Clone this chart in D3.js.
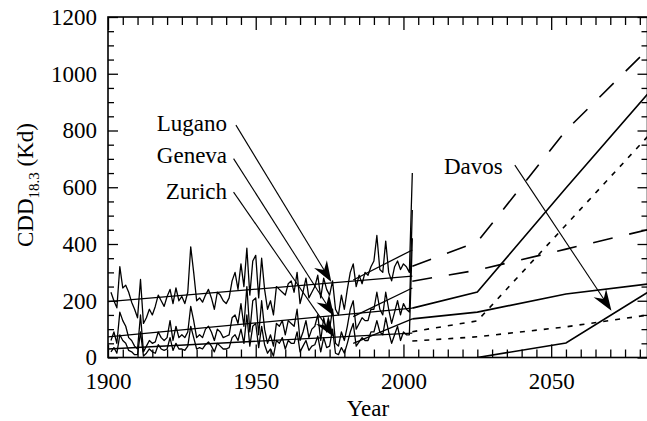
<!DOCTYPE html>
<html>
<head>
<meta charset="utf-8">
<script src="https://cdn.jsdelivr.net/npm/d3@7"></script>
<style>
  body { margin: 0; background: #fff; }
  svg text { font-family: 'Liberation Serif', 'Times New Roman', Tinos, 'DejaVu Serif', serif !important; fill: #000; }
</style>
</head>
<body>
<svg id="chart" width="647" height="421"></svg>
<script>
// Observed annual cooling degree days, 1901-2003
const obsFirstYear = 1901;
const lugano = [230,200,175,320,245,255,230,195,170,140,275,120,140,170,150,180,220,200,180,215,
  240,190,245,200,215,190,230,390,300,200,210,195,220,240,210,170,230,220,200,190,
  210,270,300,240,330,250,385,220,340,360,210,350,240,170,200,150,250,240,230,220,
  260,270,230,300,190,230,280,210,230,250,290,210,280,240,220,270,170,150,220,170,
  240,300,330,250,290,260,300,290,320,340,430,310,300,410,300,270,320,340,310,330,
  320,300,650];
const geneva = [60,90,50,160,130,110,70,60,40,30,150,20,40,60,50,55,90,70,60,70,
  130,60,110,70,80,70,90,180,130,70,80,70,100,110,90,60,100,90,70,75,
  80,140,150,120,190,110,250,90,200,210,80,200,100,50,80,40,120,110,130,80,
  130,120,110,170,60,90,130,70,100,110,150,60,140,90,100,170,50,40,90,60,
  110,170,200,100,120,140,130,130,170,170,230,170,150,230,170,120,160,200,150,190,
  170,160,520];
const zurich = [20,35,15,80,60,50,25,20,10,10,90,5,15,30,20,15,45,30,25,30,
  70,25,50,30,30,25,40,110,70,30,35,30,45,55,40,20,50,40,30,30,
  35,70,80,60,100,50,150,40,110,120,35,110,45,15,30,5,60,50,70,30,
  60,50,50,90,20,40,60,25,40,45,75,20,70,35,40,100,15,10,35,15,
  50,90,120,40,55,70,60,60,90,90,130,90,80,140,90,50,80,110,60,90,
  80,80,420];

// Linear trends: full record and recent decades
const trendYears = [1900, 2003];
const luganoTrend = [197, 287];
const genevaTrend = [73, 174];
const zurichTrend = [30, 86];
const recentYears = [1983, 2003];
const luganoRecent = [273, 379];
const genevaRecent = [144, 245];
const zurichRecent = [50, 136];

// Scenario projections (lower / upper bound per station)
const scenarioYears = [2003, 2025, 2055, 2085];
const luganoHigh = [322, 407, 800, 1110];
const luganoLow = [269, 308, 382, 456];
const genevaHigh = [174, 231, 597, 957];
const genevaLow = [136, 160, 224, 262];
const zurichHigh = [91, 129, 467, 805];
const zurichLow = [58, 73, 108, 153];
const davosYears = [2025, 2055, 2085];
const davosProj = [0, 51, 245];

// Axis ticks
const xTickLabels = [1900, 1950, 2000, 2050];
const yTickLabels = [0, 200, 400, 600, 800, 1000, 1200];

// Station labels with arrow start/end in data coordinates
const stationNames = ["Lugano", "Geneva", "Zurich", "Davos"];
const labelAt = [[1940.3, 800], [1940.3, 684], [1940.3, 557], [2013.7, 648]];
const arrowFrom = [[1943.3, 819], [1942.5, 701], [1942.5, 583], [2037.7, 678]];
const arrowTo = [[1975.6, 266], [1976.5, 146], [1976.5, 72], [2070.4, 165]];

const svg = d3.select("#chart");
const pL = 108, pR = 647.5, pT = 17, pB = 357.5;
const x = d3.scaleLinear().domain([1900, 2082.6]).range([pL, pR]);
const y = d3.scaleLinear().domain([0, 1200]).range([pB, pT]);

svg.append("defs").append("clipPath").attr("id", "plot")
  .append("rect").attr("x", pL).attr("y", pT)
  .attr("width", pR - pL).attr("height", pB - pT);

const FS = 23;
const SERIF = "'Liberation Serif', 'Times New Roman', Tinos, 'DejaVu Serif', serif";

// ---- axes: ticks point inward on all four sides ----
const xMinor = d3.range(1900, 2085, 5).filter(v => v % 50 !== 0);
const xMajor = d3.range(1900, 2085, 50);
const yMinor = d3.range(0, 1201, 50).filter(v => v % 200 !== 0);

function styleAxis(g) {
  g.attr("font-family", SERIF).attr("font-size", FS);
  g.select(".domain").remove();
  g.selectAll("line").attr("stroke", "#000").attr("stroke-width", 1.3);
  g.selectAll("text").attr("font-family", SERIF).attr("font-size", FS).attr("fill", "#000");
}

svg.append("g").attr("transform", `translate(0,${pB})`)
  .call(d3.axisBottom(x).tickValues(xMinor).tickSize(-8).tickFormat("")).call(styleAxis);
svg.append("g").attr("transform", `translate(0,${pB})`)
  .call(d3.axisBottom(x).tickValues(xTickLabels).tickSize(-13).tickPadding(15).tickFormat(d3.format("d")))
  .call(styleAxis);
svg.append("g").attr("transform", `translate(0,${pT})`)
  .call(d3.axisTop(x).tickValues(xMinor).tickSize(-8).tickFormat("")).call(styleAxis);
svg.append("g").attr("transform", `translate(0,${pT})`)
  .call(d3.axisTop(x).tickValues(xMajor).tickSize(-13).tickFormat("")).call(styleAxis);

svg.append("g").attr("transform", `translate(${pL},0)`)
  .call(d3.axisLeft(y).tickValues(yMinor).tickSize(-6).tickFormat("")).call(styleAxis);
svg.append("g").attr("transform", `translate(${pL},0)`)
  .call(d3.axisLeft(y).tickValues(yTickLabels).tickSize(-10).tickPadding(11).tickFormat(d3.format("d")))
  .call(styleAxis);
svg.append("g").attr("transform", `translate(${pR},0)`)
  .call(d3.axisRight(y).tickValues(yMinor).tickSize(-6).tickFormat("")).call(styleAxis);
svg.append("g").attr("transform", `translate(${pR},0)`)
  .call(d3.axisRight(y).tickValues(yTickLabels).tickSize(-10).tickFormat("")).call(styleAxis);

svg.append("rect").attr("x", pL).attr("y", pT)
  .attr("width", pR - pL).attr("height", pB - pT)
  .attr("fill", "none").attr("stroke", "#000").attr("stroke-width", 1.6);

// axis titles
svg.append("text").attr("x", 368).attr("y", 416).attr("text-anchor", "middle")
  .attr("font-family", SERIF).attr("font-size", FS).text("Year");
const yl = svg.append("text").attr("transform", "translate(33,185) rotate(-90)")
  .attr("text-anchor", "middle").attr("font-family", SERIF).attr("font-size", FS);
yl.append("tspan").text("CDD");
yl.append("tspan").attr("font-size", 15).attr("dy", 6).text("18.3");
yl.append("tspan").attr("dy", -6).text(" (Kd)");

// ---- observed series ----
const plot = svg.append("g").attr("clip-path", "url(#plot)");
const line = d3.line().x(d => x(d[0])).y(d => y(d[1]));
const obsYears = d3.range(obsFirstYear, obsFirstYear + lugano.length);

[lugano, geneva, zurich].forEach(s => {
  plot.append("path").datum(s.map((v, i) => [obsYears[i], v]))
    .attr("d", line).attr("fill", "none").attr("stroke", "#000")
    .attr("stroke-width", 1.3).attr("stroke-linejoin", "round");
});

[[trendYears, luganoTrend], [trendYears, genevaTrend], [trendYears, zurichTrend],
 [recentYears, luganoRecent], [recentYears, genevaRecent], [recentYears, zurichRecent]]
  .forEach(([yrs, vals]) => {
    plot.append("path").datum(vals.map((v, i) => [yrs[i], v]))
      .attr("d", line).attr("fill", "none").attr("stroke", "#000").attr("stroke-width", 1.3);
  });

// ---- scenario projections ----
const scen = [
  [scenarioYears, luganoHigh, "20,17"],
  [scenarioYears, luganoLow, "20,17"],
  [scenarioYears, genevaHigh, null],
  [scenarioYears, genevaLow, null],
  [scenarioYears, zurichHigh, "5,7"],
  [scenarioYears, zurichLow, "5,7"],
  [davosYears, davosProj, null]
];
scen.forEach(([yrs, vals, dash]) => {
  plot.append("path").datum(vals.map((v, i) => [yrs[i], v]))
    .attr("d", line).attr("fill", "none").attr("stroke", "#000")
    .attr("stroke-width", 1.6).attr("stroke-dasharray", dash);
});

// ---- station labels with arrows ----
stationNames.forEach((name, i) => {
  const isRight = i === 3;
  svg.append("text").attr("x", x(labelAt[i][0])).attr("y", y(labelAt[i][1]))
    .attr("text-anchor", isRight ? "start" : "end")
    .attr("font-family", SERIF).attr("font-size", FS).text(name);
  const x0 = x(arrowFrom[i][0]), y0 = y(arrowFrom[i][1]);
  const x1 = x(arrowTo[i][0]), y1 = y(arrowTo[i][1]);
  const ang = Math.atan2(y1 - y0, x1 - x0);
  const L = 21, W = 7.5, N = 14;
  const ux = Math.cos(ang), uy = Math.sin(ang), px = -uy, py = ux;
  svg.append("line").attr("x1", x0).attr("y1", y0)
    .attr("x2", x1 - ux * N).attr("y2", y1 - uy * N)
    .attr("stroke", "#000").attr("stroke-width", 1.1);
  const head = [
    [x1, y1],
    [x1 - ux * L + px * W, y1 - uy * L + py * W],
    [x1 - ux * N, y1 - uy * N],
    [x1 - ux * L - px * W, y1 - uy * L - py * W]
  ];
  svg.append("path").attr("d", "M" + head.map(p => p.join(",")).join("L") + "Z")
    .attr("fill", "#000");
});
</script>
</body>
</html>
